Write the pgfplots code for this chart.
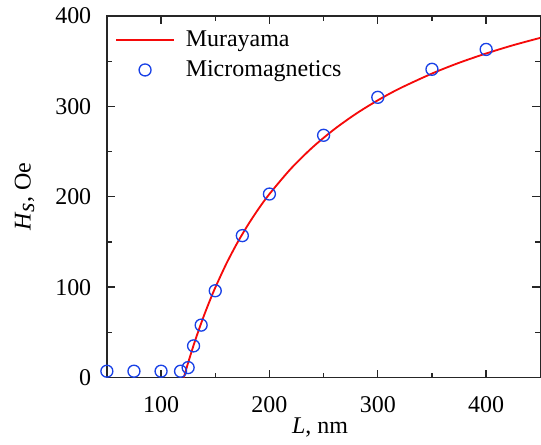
\documentclass[border=0pt]{standalone}
\usepackage{fontspec}
\setmainfont{Liberation Serif}
\usepackage{pgfplots}
\pgfplotsset{compat=1.18}
\definecolor{curvered}{RGB}{245,10,10}
\definecolor{markblue}{RGB}{25,65,230}
\pgfplotsset{
  lineleg/.style={legend image code/.code={\draw[##1] (0pt,0pt) -- (34.8pt,0pt);}},
  markleg/.style={legend image code/.code={\draw[mark repeat=2,mark phase=2,##1] plot coordinates {(0pt,0pt) (17.4pt,0pt) (34.8pt,0pt)};}},
}
\begin{document}
\fontsize{14.4}{17}\selectfont
\begin{tikzpicture}
\begin{axis}[
  name=ax,
  scale only axis,
  width=260.4pt, height=217.2pt,
  xmin=50, xmax=450, ymin=0, ymax=400,
  xtick={100,200,300,400}, ytick={0,100,200,300,400},
  minor xtick={50,150,250,350,450}, minor ytick={50,150,250,350},
  tick align=inside,
  major tick length=4.8pt, minor tick length=3pt,
  tick style={line width=0.8pt, color=black!85},
  axis line style={line width=0.8pt, color=black!85},
  xticklabel pos=lower, yticklabel pos=left,
  /pgf/number format/assume math mode=true,
  tick label style={font=\fontsize{14.4}{17}\selectfont},
  xticklabel style={anchor=base, yshift=-21pt},
  yticklabel style={anchor=east, xshift=-4.4pt},
  xlabel={\textit{L}, nm}, ylabel={\textit{H}$_{\textit{s}}$, Oe},
  label style={font=\fontsize{14.4}{17}\selectfont},
  xlabel style={at={(axis description cs:0.492,0)}, anchor=base, yshift=-33.6pt},
  ylabel style={at={(axis description cs:-0.19,0.5)}, anchor=center},
  legend style={at={(axis description cs:0,1)}, anchor=north west, draw=none, fill=none,
    font=\fontsize{14.4}{17}\selectfont, row sep=2.2pt, inner xsep=2pt, inner ysep=3pt,
    column sep=4.5pt, xshift=2.8pt, yshift=-3.6pt},
  legend cell align=left,
]
\addplot[color=curvered, line width=1.1pt, mark=none, smooth, lineleg]
coordinates {
(121,0) (125,16.4) (130,35.6) (135,53.3) (140,69.8) (145,85.1) (150,99.4)
(160,125.3) (170,148.2) (180,168.5) (190,186.7) (200,203.0) (220,231.3)
(240,254.9) (260,274.8) (280,291.9) (300,306.7) (320,319.7) (350,336.3)
(375,348.2) (400,358.5) (425,367.7) (450,375.8)
};
\addlegendentry{Murayama}
\addplot[only marks, mark=o, mark size=3.6pt, color=markblue, line width=0.8pt, markleg]
coordinates {
(50,7) (75,7) (100,7) (118,7) (125,11) (130,35) (137,58) (150,96)
(175,157) (200,203) (250,268) (300,310) (350,341) (400,363)
};
\addlegendentry{Micromagnetics}
\end{axis}
\pgfresetboundingbox
\path[use as bounding box] ([xshift=-64.2pt,yshift=-40.2pt]ax.south west) rectangle ([xshift=0.4pt,yshift=9.6pt]ax.north east);
\end{tikzpicture}
\end{document}
